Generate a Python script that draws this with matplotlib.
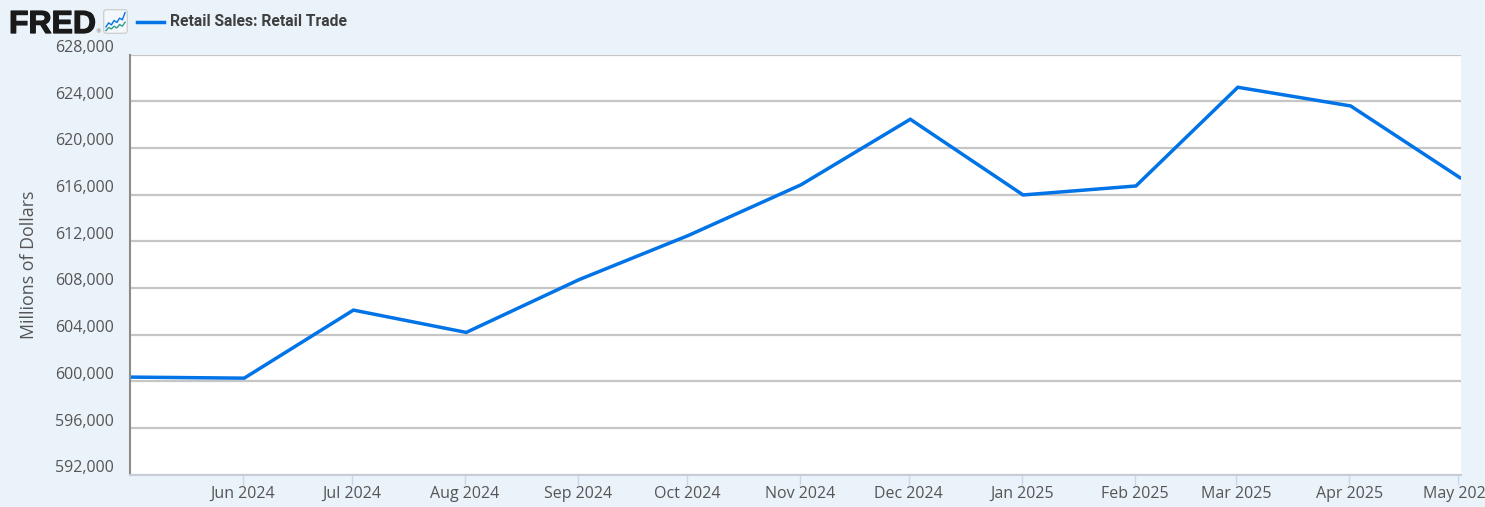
import matplotlib
matplotlib.use("Agg")
from datetime import date
import matplotlib.dates as mdates
import matplotlib.patheffects as pe
from matplotlib import pyplot as plt
from matplotlib.patches import FancyBboxPatch
from matplotlib.transforms import ScaledTranslation

months = [date(2024, 5, 1), date(2024, 6, 1), date(2024, 7, 1), date(2024, 8, 1),
          date(2024, 9, 1), date(2024, 10, 1), date(2024, 11, 1), date(2024, 12, 1),
          date(2025, 1, 1), date(2025, 2, 1), date(2025, 3, 1), date(2025, 4, 1),
          date(2025, 5, 1)]
sales = [600370, 600280, 606110, 604200, 608720, 612500, 616850, 622460,
         615975, 616745, 625200, 623600, 617460]
y_ticks = list(range(592000, 628001, 4000))
icon_blue = [1.8, 3.0, 2.4, 3.7, 3.1, 4.4, 3.9, 6.0]
icon_green = [0.7, 1.6, 1.2, 2.0, 1.5, 2.5, 2.0, 3.2]

BG = "#eaf2fa"
TEXT = "#555555"

plt.rcParams["font.family"] = ["Open Sans", "DejaVu Sans"]

W, H = 1485, 507
fig = plt.figure(figsize=(W / 100, H / 100), dpi=100, facecolor=BG)
ax = fig.add_axes([130 / W, 1 - 474.8 / H, 1331 / W, 420.2 / H], facecolor="white")

# the points sit a little right of the month ticks in the original
nudge = ScaledTranslation(1.4 / 100, 0, fig.dpi_scale_trans)
ax.plot(months, sales, color="#0073e6", lw=2.5, solid_joinstyle="miter",
        transform=ax.transData + nudge)

ax.set_xlim(date(2024, 5, 1), mdates.num2date(mdates.date2num(date(2025, 5, 1)) + 0.7))
ax.set_ylim(592000, 628000)
ax.set_yticks(y_ticks)
ax.set_yticklabels([f"{v:,}" for v in y_ticks], fontsize=11.5, color=TEXT)
ax.set_xticks(months[1:])
ax.set_xticklabels([m.strftime("%b %Y") for m in months[1:]], fontsize=11.5, color=TEXT)
ax.grid(axis="y", color="#c6c6c6", lw=1.6)
ax.set_axisbelow(True)
ax.tick_params(axis="y", length=0, pad=11.5)
ax.tick_params(axis="x", length=7, width=1, color="#ccd6eb", pad=1)

# highcharts puts the y labels a bit above the grid line
shift = ScaledTranslation(0, 6.2 / 72, fig.dpi_scale_trans)
for lab in ax.get_yticklabels():
    lab.set_transform(lab.get_transform() + shift)

for side in ["top", "right"]:
    ax.spines[side].set_visible(False)
ax.spines["left"].set_color("#8c8c8c")
ax.spines["left"].set_linewidth(1.5)
ax.spines["bottom"].set_color("#c8ccd6")
ax.spines["bottom"].set_linewidth(1.5)

fig.text(29 / W, 1 - 264.5 / H, "Millions of Dollars", rotation=90, ha="center", va="center",
         fontsize=12.8, color=TEXT)

# header: logo, icon, legend
logo = fig.text(9 / W, 1 - 33 / H, "FRED", fontsize=23, fontweight="bold", family="Liberation Sans",
                color="#1a1a1a", ha="left", va="baseline")
logo.set_path_effects([pe.withStroke(linewidth=0.9, foreground="#1a1a1a")])
fig.text(95 / W, 1 - 33 / H, "®", fontsize=4, family="DejaVu Sans", color="#666666",
         ha="left", va="baseline")
icon = fig.add_axes([103 / W, 1 - 34 / H, 25 / W, 25 / H])
icon.axis("off")
icon.set_xlim(0, 1)
icon.set_ylim(0, 1)
icon.add_patch(FancyBboxPatch((0.03, 0.03), 0.94, 0.94, boxstyle="round,pad=0,rounding_size=0.1",
                              fc="#f4f8fc", ec="#c8c8c8", lw=0.8, transform=icon.transAxes))
icon2 = fig.add_axes([105 / W, 1 - 33 / H, 21 / W, 22 / H])
icon2.axis("off")
icon2.plot(icon_blue, color="#0073e6", lw=1)
icon2.plot(icon_green, color="#2a9d8f", lw=1)
icon2.set_ylim(0, 6.5)
fig.add_artist(plt.Line2D([137 / W, 164 / W], [1 - 22 / H, 1 - 22 / H], color="#0073e6", lw=2.5))
fig.text(170 / W, 1 - 21.5 / H, "Retail Sales: Retail Trade", fontsize=11.25, fontweight="bold",
         family="Roboto", color="#3f3f3f", ha="left", va="center")

fig.savefig("out.png", dpi=100, facecolor=BG)
